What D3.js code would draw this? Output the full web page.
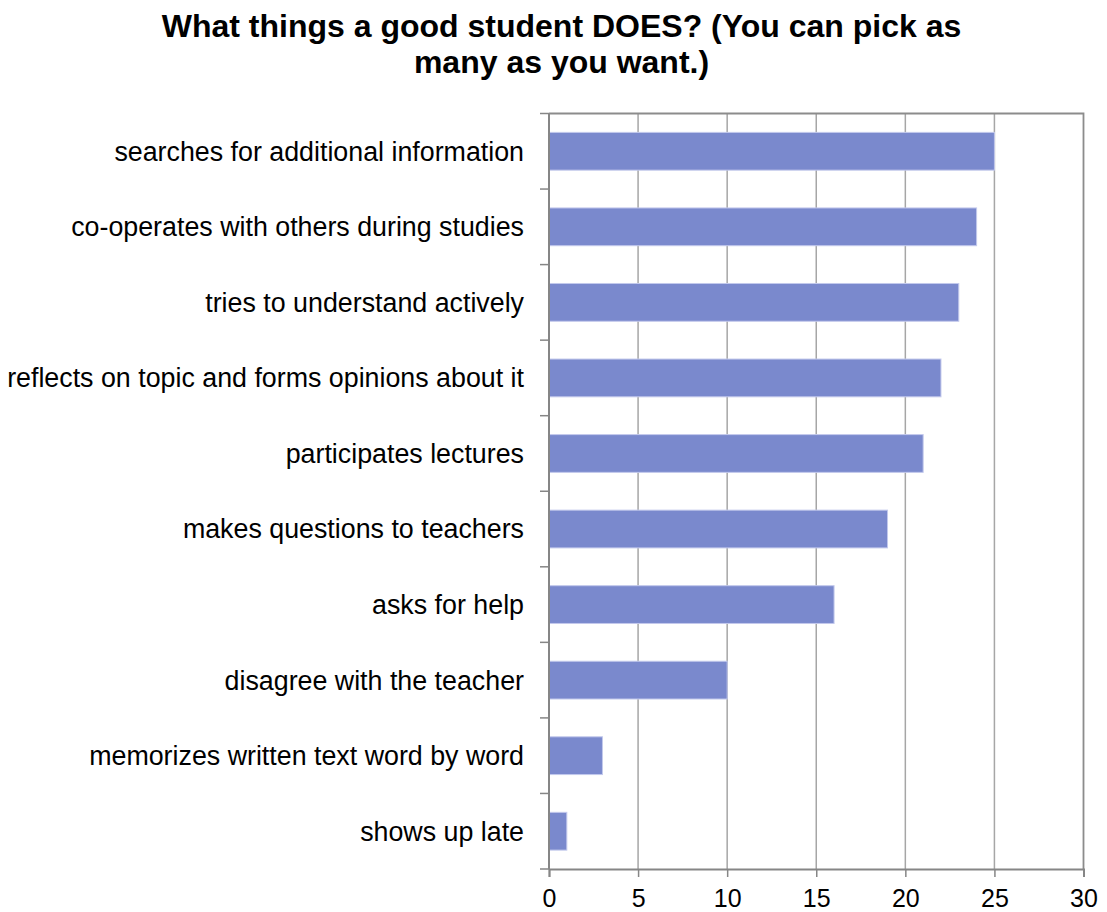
<!DOCTYPE html>
<html>
<head>
<meta charset="utf-8">
<script src="https://cdn.jsdelivr.net/npm/d3@7"></script>
<style>
  html, body { margin: 0; padding: 0; background: #fff; }
  svg { display: block; }
  text { font-family: "Liberation Sans", Arial, sans-serif; fill: #000; }
</style>
</head>
<body>
<svg id="chart" width="1107" height="912"></svg>
<script>
// Survey answers, top to bottom
const categories = [
  "searches for additional information",
  "co-operates with others during studies",
  "tries to understand actively",
  "reflects on topic and forms opinions about it",
  "participates lectures",
  "makes questions to teachers",
  "asks for help",
  "disagree with the teacher",
  "memorizes written text word by word",
  "shows up late"
];
const counts = [25, 24, 23, 22, 21, 19, 16, 10, 3, 1];
const xTicks = [0, 5, 10, 15, 20, 25, 30];
const titleLines = ["What things a good student DOES? (You can pick as", "many as you want.)"];

const svg = d3.select("#chart");
const plot = { left: 549, right: 1083.5, top: 113.5, bottom: 869 };

const x = d3.scaleLinear().domain([0, 30]).range([plot.left, plot.right]);
const y = d3.scaleBand().domain(categories).range([plot.top, plot.bottom]).paddingInner(0.5).paddingOuter(0.25);

// Title
const title = svg.append("g");
titleLines.forEach((t, i) => {
  title.append("text")
    .attr("x", 561.5).attr("y", 37 + i * 36)
    .attr("text-anchor", "middle")
    .attr("font-size", 32).attr("font-weight", "bold")
    .text(t);
});

// Vertical gridlines
svg.append("g").selectAll("line").data(xTicks.slice(1, -1)).join("line")
  .attr("x1", d => x(d)).attr("x2", d => x(d))
  .attr("y1", plot.top).attr("y2", plot.bottom)
  .attr("stroke", "#a6a6a6").attr("stroke-width", 1.5);

// Plot frame (top and right)
svg.append("path")
  .attr("d", `M${plot.left},${plot.top}H${plot.right}V${plot.bottom}`)
  .attr("fill", "none").attr("stroke", "#8c8c8c").attr("stroke-width", 1.8);

// Bars
svg.append("g").selectAll("rect").data(categories).join("rect")
  .attr("x", x(0))
  .attr("y", d => y(d))
  .attr("width", (d, i) => x(counts[i]) - x(0))
  .attr("height", y.bandwidth())
  .attr("fill", "#7a89cd")
  .attr("stroke", "#c3c9ec").attr("stroke-width", 1);

// Category axis
const step = (plot.bottom - plot.top) / categories.length;
const catAxis = svg.append("g");
catAxis.append("line")
  .attr("x1", plot.left).attr("x2", plot.left)
  .attr("y1", plot.top).attr("y2", plot.bottom)
  .attr("stroke", "#868686").attr("stroke-width", 2);
catAxis.selectAll("line.tick").data(d3.range(categories.length + 1)).join("line")
  .attr("class", "tick")
  .attr("x1", plot.left - 9).attr("x2", plot.left)
  .attr("y1", i => plot.top + i * step).attr("y2", i => plot.top + i * step)
  .attr("stroke", "#868686").attr("stroke-width", 1.5);
catAxis.selectAll("text").data(categories).join("text")
  .attr("x", 524)
  .attr("y", d => y(d) + y.bandwidth() / 2)
  .attr("dy", "0.35em")
  .attr("text-anchor", "end")
  .attr("font-size", 26.8)
  .text(d => d);

// Value axis
const xAxis = d3.axisBottom(x).tickValues(xTicks).tickSize(8).tickPadding(12);
const gx = svg.append("g").attr("transform", `translate(0,${plot.bottom})`).call(xAxis);
gx.select(".domain").attr("stroke", "#868686").attr("stroke-width", 2);
gx.selectAll(".tick line").attr("stroke", "#868686").attr("stroke-width", 1.5);
gx.selectAll(".tick text").attr("font-size", 25).attr("font-family", "Liberation Sans, Arial, sans-serif").attr("fill", "#000");
</script>
</body>
</html>
